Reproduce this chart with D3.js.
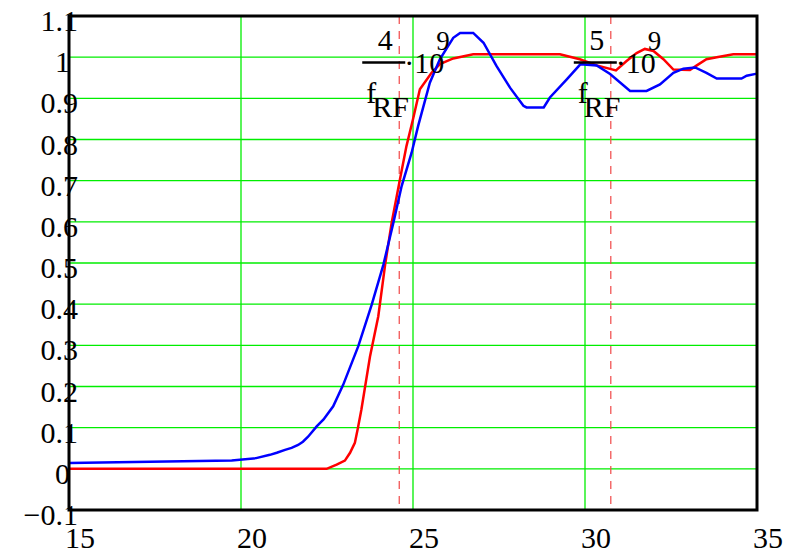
<!DOCTYPE html>
<html>
<head>
<meta charset="utf-8">
<script src="https://cdn.jsdelivr.net/npm/d3@7"></script>
<style>
  body { margin: 0; background: #fff; }
  text { font-family: "Liberation Serif", "Times New Roman", serif; fill: #000; }
</style>
</head>
<body>
<div id="chart"></div>
<script>
// time axis (ns) and the two step responses
const redT = [15, 22.49, 22.78, 23.02, 23.17, 23.31, 23.4, 23.5, 23.75, 23.99, 24.19, 24.38, 24.62, 24.81, 25.0, 25.2, 25.54, 25.78, 26.17, 26.75, 29.27, 29.85, 30.34, 30.9, 31.2, 31.5, 31.74, 31.99, 32.28, 32.57, 33.05, 33.25, 33.53, 33.83, 34.31, 35];
const redV = [0, 0, 0.01, 0.02, 0.039, 0.063, 0.1, 0.144, 0.273, 0.37, 0.496, 0.598, 0.703, 0.784, 0.849, 0.922, 0.962, 0.983, 0.997, 1.007, 1.007, 0.995, 0.98, 0.968, 0.99, 1.01, 1.02, 1.015, 0.995, 0.97, 0.969, 0.98, 0.995, 1.0, 1.007, 1.007];

const blueT = [15, 19.73, 20.44, 20.84, 21.04, 21.28, 21.47, 21.66, 21.8, 21.95, 22.2, 22.4, 22.68, 22.97, 23.41, 23.8, 24.14, 24.43, 24.67, 24.96, 25.15, 25.49, 25.78, 26.17, 26.37, 26.75, 27.05, 27.43, 27.82, 28.21, 28.3, 28.8, 28.98, 29.47, 29.87, 30.34, 30.73, 31.31, 31.79, 32.18, 32.57, 32.86, 33.2, 33.53, 33.83, 34.55, 34.7, 35];
const blueV = [0.014, 0.02, 0.026, 0.034, 0.039, 0.046, 0.051, 0.058, 0.066, 0.078, 0.103, 0.12, 0.152, 0.204, 0.298, 0.399, 0.496, 0.598, 0.687, 0.768, 0.833, 0.938, 0.995, 1.047, 1.059, 1.059, 1.035, 0.978, 0.926, 0.882, 0.878, 0.878, 0.902, 0.946, 0.983, 0.98, 0.959, 0.918, 0.918, 0.934, 0.962, 0.972, 0.975, 0.962, 0.948, 0.948, 0.955, 0.96];

const xTicks = [15, 20, 25, 30, 35];
const yTicks = [-0.1, 0, 0.1, 0.2, 0.3, 0.4, 0.5, 0.6, 0.7, 0.8, 0.9, 1, 1.1];
const markerT = [24.6, 30.75];   // 4/fRF·10^9 and 5/fRF·10^9
const markerNum = ["4", "5"];

const width = 794, height = 552;
const svg = d3.select("#chart").append("svg")
  .attr("width", width)
  .attr("height", height);

const x = d3.scaleLinear().domain([15, 35]).range([69, 757]);
const y = d3.scaleLinear().domain([-0.1, 1.1]).range([510, 16]);

// green grid
svg.append("g")
  .selectAll("line")
  .data(yTicks.slice(1, -1))
  .enter().append("line")
  .attr("x1", x(15)).attr("x2", x(35))
  .attr("y1", d => y(d)).attr("y2", d => y(d))
  .attr("stroke", "#00ee00")
  .attr("stroke-width", 1.3);

svg.append("g")
  .selectAll("line")
  .data(xTicks.slice(1, -1))
  .enter().append("line")
  .attr("x1", d => x(d)).attr("x2", d => x(d))
  .attr("y1", y(-0.1)).attr("y2", y(1.1))
  .attr("stroke", "#00ee00")
  .attr("stroke-width", 1.3);

// red dashed markers
svg.append("g")
  .selectAll("line")
  .data(markerT)
  .enter().append("line")
  .attr("x1", d => x(d)).attr("x2", d => x(d))
  .attr("y1", y(1.1)).attr("y2", y(-0.1))
  .attr("stroke", "#f04848")
  .attr("stroke-width", 1.2)
  .attr("stroke-dasharray", "8,7");

// traces
const line = d3.line().x(d => x(d[0])).y(d => y(d[1]));

svg.append("path")
  .datum(redT.map((t, i) => [t, redV[i]]))
  .attr("d", line)
  .attr("fill", "none")
  .attr("stroke", "#ff0000")
  .attr("stroke-width", 2.5);

svg.append("path")
  .datum(blueT.map((t, i) => [t, blueV[i]]))
  .attr("d", line)
  .attr("fill", "none")
  .attr("stroke", "#0000ff")
  .attr("stroke-width", 2.5);

// frame
svg.append("rect")
  .attr("x", x(15)).attr("y", y(1.1))
  .attr("width", x(35) - x(15))
  .attr("height", y(-0.1) - y(1.1))
  .attr("fill", "none")
  .attr("stroke", "#000")
  .attr("stroke-width", 3);

// tick labels
svg.append("g")
  .selectAll("text")
  .data(xTicks)
  .enter().append("text")
  .attr("x", d => x(d) - 4)
  .attr("y", 548)
  .attr("font-size", 30)
  .text(d => d);

const yFmt = d => d < 0 ? "\u22120.1" : d3.format("~g")(d);
svg.append("g")
  .selectAll("text")
  .data(yTicks)
  .enter().append("text")
  .attr("x", d => Number.isInteger(d) ? 70 : 78)
  .attr("y", d => y(d) + 15)
  .attr("text-anchor", "end")
  .attr("font-size", 30)
  .text(yFmt);

// marker annotations: n / f_RF · 10^9
markerT.forEach((t, i) => {
  const x0 = x(t);
  const g = svg.append("g");
  g.append("text").attr("x", x0 - 14).attr("y", 50)
    .attr("text-anchor", "middle").attr("font-size", 30).text(markerNum[i]);
  g.append("line")
    .attr("x1", x0 - 37).attr("x2", x0 + 6)
    .attr("y1", 62.5).attr("y2", 62.5)
    .attr("stroke", "#000").attr("stroke-width", 2.6);
  g.append("text").attr("x", x0 - 33).attr("y", 103)
    .attr("font-size", 30).text("f");
  g.append("text").attr("x", x0 - 27).attr("y", 117)
    .attr("font-size", 30).text("RF");
  g.append("text").attr("x", x0 + 5).attr("y", 73)
    .attr("font-size", 30).text("\u00b710");
  g.append("text").attr("x", x0 + 37).attr("y", 50)
    .attr("font-size", 27).text("9");
});
</script>
</body>
</html>
